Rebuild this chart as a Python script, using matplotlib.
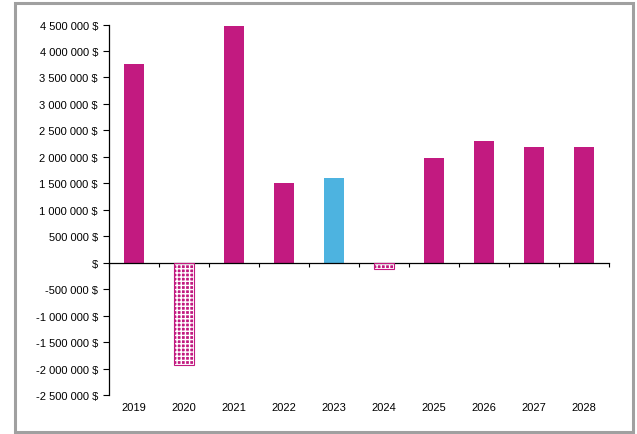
import matplotlib
matplotlib.use("Agg")
import matplotlib.pyplot as plt
from matplotlib.patches import Rectangle
from matplotlib.ticker import FixedLocator, FuncFormatter

# data
years = ["2019", "2020", "2021", "2022", "2023", "2024", "2025", "2026", "2027", "2028"]
values = [3750000, -1940000, 4480000, 1500000, 1600000, -110000, 1970000, 2290000, 2190000, 2190000]
highlight = "2023"

magenta = "#C21A80"
blue = "#4DB3E0"

plt.rcParams["font.family"] = ["Liberation Sans", "DejaVu Sans"]

fig = plt.figure(figsize=(6.37, 4.35), dpi=100)
ax = fig.add_axes([109 / 637, 1 - 396 / 435, 500 / 637, (396 - 25.5) / 435])

xs = list(range(len(years)))
for x, yr, v in zip(xs, years, values):
    if v < 0:
        # hatched negative bars: magenta fill with white pattern, magenta outline
        ax.bar(x, v, width=0.4, color=magenta, edgecolor="white", hatch="++++",
               linewidth=0, zorder=2)
        ax.bar(x, v, width=0.4, fill=False, edgecolor=magenta, linewidth=0.8, zorder=3)
    else:
        c = blue if yr == highlight else magenta
        ax.bar(x, v, width=0.4, color=c, linewidth=0, zorder=2)

ax.set_xlim(-0.5, len(years) - 0.5)
ax.set_ylim(-2500000, 4500000)


def fmt(v, pos):
    if v == 0:
        return "$"
    s = f"{abs(int(v)):,}".replace(",", " ")
    return ("-" if v < 0 else "") + s + " $"


ax.yaxis.set_major_locator(FixedLocator(range(-2500000, 4500001, 500000)))
ax.yaxis.set_major_formatter(FuncFormatter(fmt))
ax.tick_params(axis="y", labelsize=8, length=4, width=0.8, pad=4, colors="black")

for s in ["top", "right"]:
    ax.spines[s].set_visible(False)
ax.spines["bottom"].set_position(("data", 0))
ax.spines["left"].set_linewidth(0.9)
ax.spines["bottom"].set_linewidth(0.9)

ax.set_xticks([x - 0.5 for x in xs] + [len(years) - 0.5])
ax.set_xticklabels([])
ax.tick_params(axis="x", length=3, width=0.8, direction="out")

for x, yr in zip(xs, years):
    ax.text(x, -0.018, yr, transform=ax.get_xaxis_transform(), ha="center", va="top",
            fontsize=8)

# outer grey frame
fig.patches.append(Rectangle((15 / 637, 2 / 435), 618 / 637, 429 / 435,
                             transform=fig.transFigure, fill=False,
                             edgecolor="#a0a0a0", linewidth=2.2))

fig.savefig("out.png", dpi=100)
